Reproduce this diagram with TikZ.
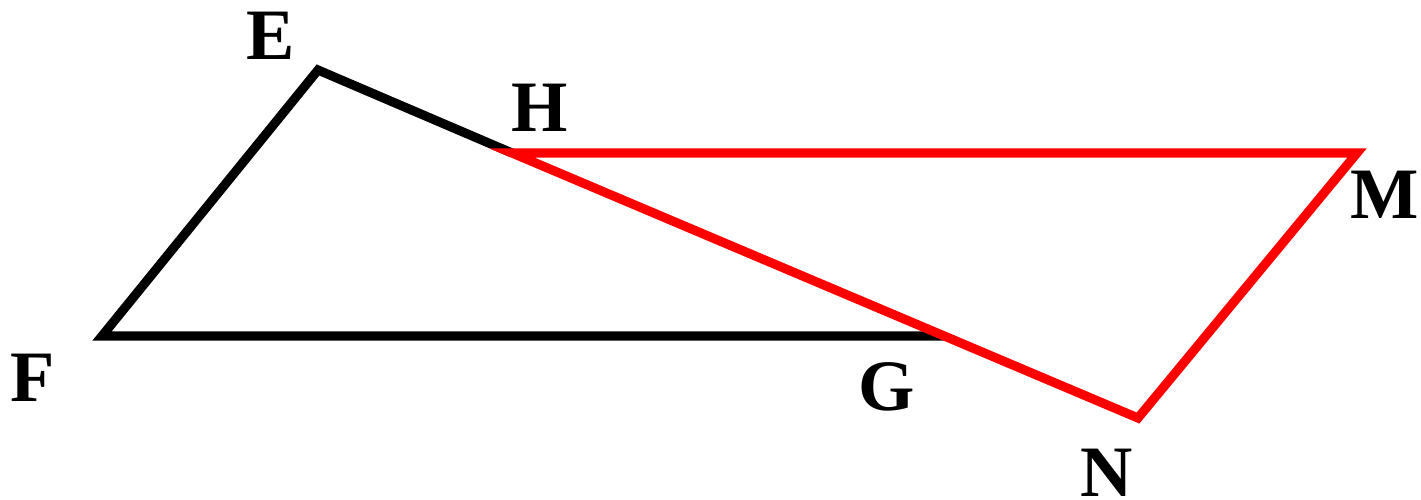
\documentclass[tikz,border=0pt]{standalone}
\usepackage{fontspec}
\setmainfont{Liberation Serif}
\usepackage{xcolor}
\usepackage{tikz}
\usetikzlibrary{positioning, calc}
\definecolor{triline}{RGB}{0,0,0}
\definecolor{redline}{RGB}{255,0,0}

\begin{document}
\begin{tikzpicture}[line width=2.6pt,
    pointlabel/.style={font=\fontsize{20.6}{24}\selectfont\bfseries, inner sep=0pt}]
  \useasboundingbox (0,0) rectangle (14.21,4.99);
  % Vertices
  \coordinate (E) at (3.18,4.29);
  \coordinate (F) at (1.02,1.63);
  \coordinate (G) at (9.44,1.63);
  \coordinate (H) at (5.12,3.46);
  \coordinate (M) at (13.57,3.46);
  \coordinate (N) at (11.38,0.81);
  % Black triangle
  \draw[triline] (G) -- (F) -- (E) -- (H);
  % Red triangle
  \draw[redline] (H) -- (M) -- (N) -- cycle;
  % Labels
  \node[pointlabel] (labE) at (2.71,4.63) {E};
  \node[pointlabel] (labH) at (5.40,3.91) {H};
  \node[pointlabel] (labM) at (13.85,3.04) {M};
  \node[pointlabel] (labF) at (0.33,1.21) {F};
  \node[pointlabel] (labG) at (8.87,1.12) {G};
  \node[pointlabel] (labN) at (11.07,0.26) {N};
\end{tikzpicture}
\end{document}
